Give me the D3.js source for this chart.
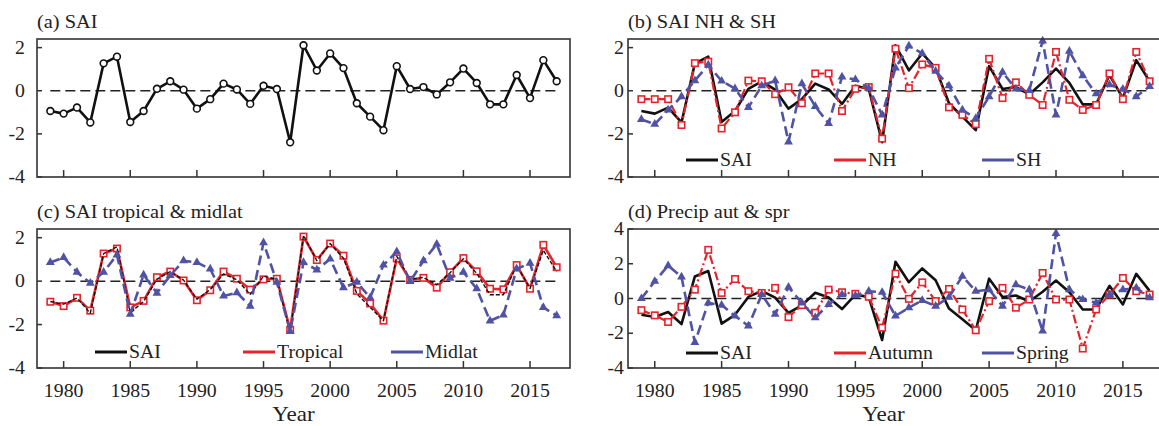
<!DOCTYPE html>
<html>
<head>
<meta charset="utf-8">
<script src="https://cdn.jsdelivr.net/npm/d3@7"></script>
<style>
  body { margin: 0; background: #fff; }
  svg { display: block; }
  text { font-family: "Liberation Serif", "Times New Roman", serif; fill: #222; }
</style>
</head>
<body>
<div id="fig"></div>
<script>
const years = d3.range(1979, 2018);
const xTicks = [1980, 1985, 1990, 1995, 2000, 2005, 2010, 2015];

const sai = [-0.94, -1.06, -0.78, -1.47, 1.27, 1.58, -1.45, -0.94, 0.09, 0.44,
  0.05, -0.83, -0.39, 0.33, 0.06, -0.61, 0.23, 0.08, -2.39, 2.11,
  0.94, 1.73, 1.05, -0.58, -1.20, -1.83, 1.14, 0.08, 0.17, -0.17,
  0.39, 1.03, 0.36, -0.63, -0.63, 0.73, -0.34, 1.42, 0.44];

const nh = [-0.39, -0.39, -0.39, -1.59, 1.28, 1.35, -1.75, -1.00, 0.47, 0.44,
  -0.16, 0.16, -0.58, 0.80, 0.80, -0.94, 0.09, 0.17, -2.22, 1.95,
  0.12, 1.22, 1.06, -0.77, -1.12, -1.55, 1.48, -0.34, 0.39, -0.19,
  -0.66, 1.80, -0.42, -0.89, -0.66, 0.80, -0.39, 1.80, 0.44];

const sh = [-1.33, -1.55, -0.89, -0.27, 0.47, 1.20, 0.45, 0.10, -0.77, 0.23,
  0.47, -2.37, 0.33, -0.73, -1.52, 0.64, 0.52, 0.12, -1.12, 1.06,
  2.08, 1.73, 0.91, 0.23, -0.89, -1.28, -0.27, 0.86, 0.08, 0.02,
  2.31, -1.12, 1.84, 0.70, -0.14, 0.28, 0.08, -0.27, 0.20];

const tropical = [-0.95, -1.15, -0.77, -1.36, 1.27, 1.50, -1.21, -0.91, 0.18, 0.44,
  0.03, -0.88, -0.42, 0.44, 0.11, -0.39, 0.08, 0.11, -2.24, 2.05,
  0.97, 1.73, 1.17, -0.45, -1.03, -1.82, 1.05, 0.06, 0.15, -0.30,
  0.41, 1.06, 0.45, -0.35, -0.38, 0.74, -0.35, 1.67, 0.64];

const midlat = [0.86, 1.09, 0.41, -0.09, 0.41, 1.21, -1.52, 0.29, -0.55, 0.26,
  0.94, 0.86, 0.56, -0.68, -0.53, -1.15, 1.77, -0.05, -2.32, 0.86,
  0.52, 1.02, -0.30, -0.05, -0.76, 0.74, 1.36, -0.02, 0.94, 1.70,
  0.14, 0.41, -0.35, -1.83, -1.56, 0.56, 0.83, -1.21, -1.59];

const autumn = [-0.67, -0.97, -1.35, -0.48, 0.51, 2.80, 0.32, 1.12, 0.42, 0.32,
  0.61, -1.07, -0.38, -0.82, 0.51, 0.36, 0.27, 0.10, -1.68, 1.43,
  -0.02, 0.93, -0.15, 0.55, -0.63, -1.83, -0.15, 0.61, -0.53, -0.06,
  1.47, -0.06, -0.06, -2.88, -0.63, 0.23, 1.18, 0.42, 0.23];

const spring = [0.00, 0.99, 1.89, 1.24, -2.53, -0.25, -0.38, -1.00, -1.58, 0.23,
  -0.91, 0.65, -0.25, -1.10, -0.34, 0.23, 0.17, 0.42, 0.36, -1.00,
  -0.53, -0.11, -0.44, 0.08, 1.28, 0.42, 0.51, -0.44, 0.80, 0.51,
  -1.87, 3.75, 0.51, -0.06, -0.25, 0.23, 0.51, 0.61, 0.04];

const RED = "#e5232b";
const BLUE = "#5052a3";

const W = 1159, H = 426;
var svg = d3.select("#fig").append("svg")
  .attr("width", W)
  .attr("height", H);

function label(g, x, y, str, size, anchor) {
  return g.append("text")
    .attr("transform", `translate(${x},${y}) scale(1.1,1)`)
    .attr("text-anchor", anchor || "start")
    .style("font-size", size + "px")
    .text(str);
}

// styles for each kind of series
const kinds = {
  saiDots: { color: "#111", width: 2.6, dash: null, mark: "circle" },
  saiLine: { color: "#111", width: 2.6, dash: null, mark: null },
  saiThin: { color: "#111", width: 1.4, dash: "4,2", mark: null },
  redDashDot: { color: RED, width: 2.2, dash: "9,3,2,3", mark: "square" },
  redSolid: { color: RED, width: 2.6, dash: null, mark: "square" },
  blueDash: { color: BLUE, width: 2.6, dash: "10,5", mark: "triangle" }
};

function panel(p) {
  const g = svg.append("g");
  const x = d3.scaleLinear().domain([1978, 2018]).range([p.x0, p.x1]);
  const y = d3.scaleLinear().domain(p.yDomain).range([p.yBottom, p.yTop]);

  // zero line
  g.append("line")
    .attr("x1", x(1979)).attr("x2", x(2017))
    .attr("y1", y(0)).attr("y2", y(0))
    .style("stroke", "#222").style("stroke-width", 1.5)
    .style("stroke-dasharray", "10,5");

  p.series.forEach(s => {
    const k = kinds[s.kind];
    const pts = years.map((yr, i) => [x(yr), y(s.data[i])]);
    g.append("path")
      .attr("d", d3.line()(pts))
      .style("fill", "none")
      .style("stroke", k.color)
      .style("stroke-width", k.width)
      .style("stroke-linejoin", "round")
      .style("stroke-dasharray", k.dash);
    if (k.mark == "circle") {
      g.selectAll(null).data(pts).enter().append("circle")
        .attr("cx", d => d[0]).attr("cy", d => d[1]).attr("r", 3.4)
        .style("fill", "#fff").style("stroke", k.color).style("stroke-width", 1.6);
    } else if (k.mark == "square") {
      g.selectAll(null).data(pts).enter().append("rect")
        .attr("x", d => d[0] - 3.2).attr("y", d => d[1] - 3.2)
        .attr("width", 6.4).attr("height", 6.4)
        .style("fill", "#fff").style("stroke", k.color).style("stroke-width", 1.6);
    } else if (k.mark == "triangle") {
      g.selectAll(null).data(pts).enter().append("path")
        .attr("d", d3.symbol(d3.symbolTriangle).size(34))
        .attr("transform", d => `translate(${d[0]},${d[1]})`)
        .style("fill", k.color);
    }
  });

  // frame
  g.append("rect")
    .attr("x", p.x0).attr("y", p.yTop)
    .attr("width", p.x1 - p.x0).attr("height", p.yBottom - p.yTop)
    .style("fill", "none").style("stroke", "#333").style("stroke-width", 1.6);

  // inward ticks
  xTicks.forEach(t => {
    g.append("line")
      .attr("x1", x(t)).attr("x2", x(t))
      .attr("y1", p.yBottom).attr("y2", p.yBottom - 7)
      .style("stroke", "#333").style("stroke-width", 1.5);
    if (p.xLabels) label(g, x(t), p.yBottom + 29, t, 18, "middle");
  });
  p.yTicks.forEach(t => {
    g.append("line")
      .attr("x1", p.x0).attr("x2", p.x0 + 5)
      .attr("y1", y(t)).attr("y2", y(t))
      .style("stroke", "#333").style("stroke-width", 1.5);
    label(g, p.x0 - p.yGap, y(t) + 6, t, 18, "end");
  });

  label(g, p.x0, p.yTop - 11, p.title, 18.5);
  if (p.xLabels) label(g, (p.x0 + Math.min(p.x1, W)) / 2 - 10, p.yBottom + 53, "Year", 21, "middle");

  // legend
  (p.legend || []).forEach((l, i) => {
    const lx = p.x0 + 58 + i * 148;
    g.append("line")
      .attr("x1", lx).attr("x2", lx + 32)
      .attr("y1", p.legendY).attr("y2", p.legendY)
      .style("stroke", l.color).style("stroke-width", 3);
    label(g, lx + 34, p.legendY + 6, l.name, 18);
  });
}

panel({
  x0: 37, x1: 570, yTop: 39, yBottom: 177, yDomain: [-4, 2.4],
  yTicks: [2, 0, -2, -4], yGap: 12, title: "(a) SAI", xLabels: false,
  series: [{ data: sai, kind: "saiDots" }]
});

panel({
  x0: 628, x1: 1163, yTop: 39, yBottom: 177, yDomain: [-4, 2.4],
  yTicks: [2, 0, -2, -4], yGap: 4, title: "(b) SAI NH & SH", xLabels: false,
  series: [{ data: sai, kind: "saiLine" }, { data: nh, kind: "redDashDot" }, { data: sh, kind: "blueDash" }],
  legendY: 160,
  legend: [{ name: "SAI", color: "#111" }, { name: "NH", color: RED }, { name: "SH", color: BLUE }]
});

panel({
  x0: 37, x1: 570, yTop: 229, yBottom: 368, yDomain: [-4, 2.4],
  yTicks: [2, 0, -2, -4], yGap: 12, title: "(c) SAI tropical & midlat", xLabels: true,
  series: [{ data: tropical, kind: "redSolid" }, { data: sai, kind: "saiThin" }, { data: midlat, kind: "blueDash" }],
  legendY: 352,
  legend: [{ name: "SAI", color: "#111" }, { name: "Tropical", color: RED }, { name: "Midlat", color: BLUE }]
});

panel({
  x0: 628, x1: 1163, yTop: 229, yBottom: 368, yDomain: [-4, 4],
  yTicks: [4, 2, 0, -2, -4], yGap: 4, title: "(d) Precip aut & spr", xLabels: true,
  series: [{ data: sai, kind: "saiLine" }, { data: autumn, kind: "redDashDot" }, { data: spring, kind: "blueDash" }],
  legendY: 353,
  legend: [{ name: "SAI", color: "#111" }, { name: "Autumn", color: RED }, { name: "Spring", color: BLUE }]
});
</script>
</body>
</html>
